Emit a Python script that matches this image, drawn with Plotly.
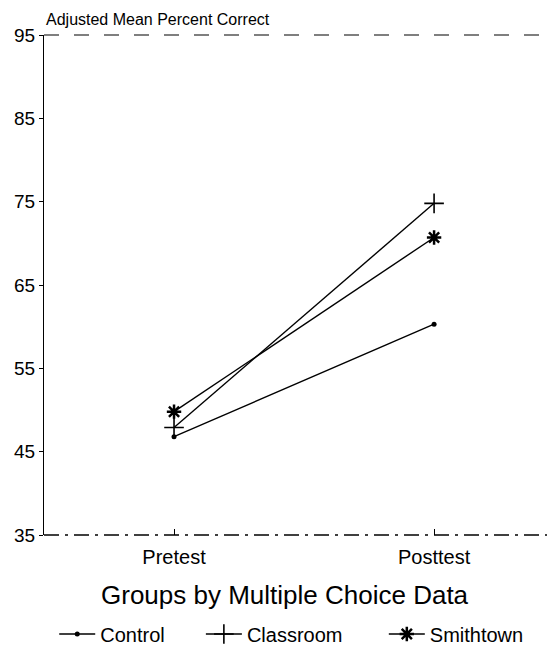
import plotly.graph_objects as go

phases = ["Pretest", "Posttest"]
control = [46.8, 60.3]
classroom = [47.9, 74.8]
smithtown = [49.8, 70.7]
y_ticks = [35, 45, 55, 65, 75, 85, 95]

font = "Liberation Sans, Arial, sans-serif"
xs = [0, 1]

fig = go.Figure()
fig.add_trace(go.Scatter(x=xs, y=control, name="Control", mode="lines+markers",
                         line=dict(color="black", width=1.4), legend="legend",
                         marker=dict(symbol="circle", size=5, color="black")))
fig.add_trace(go.Scatter(x=xs, y=classroom, name="Classroom", mode="lines+markers",
                         line=dict(color="black", width=1.4), legend="legend2",
                         marker=dict(symbol="cross-thin", size=14, line=dict(color="black", width=1.6))))
fig.add_trace(go.Scatter(x=xs, y=smithtown, name="Smithtown", mode="lines+markers",
                         line=dict(color="black", width=1.4), legend="legend3",
                         marker=dict(symbol="asterisk", size=12, line=dict(color="black", width=2.5))))

leg = dict(orientation="h", xanchor="left", y=-0.198, yanchor="middle",
           font=dict(size=20), itemwidth=36, bgcolor="rgba(0,0,0,0)")

fig.update_layout(
    width=547, height=643,
    margin=dict(l=36, r=0, t=27, b=116, autoexpand=False),
    paper_bgcolor="white", plot_bgcolor="white",
    font=dict(family=font, color="black", size=20),
    showlegend=True,
    legend=dict(leg, x=0.02),
    legend2=dict(leg, x=0.307),
    legend3=dict(leg, x=0.665),
    xaxis=dict(range=[-0.5, 1.465], tickmode="array", tickvals=xs, ticktext=phases,
               showgrid=False, zeroline=False, showline=False,
               ticks="inside", ticklen=6, tickcolor="black",
               tickfont=dict(size=20), ticklabelstandoff=8),
    yaxis=dict(range=[35, 95], tickmode="array", tickvals=y_ticks,
               showgrid=False, zeroline=False, showline=True, linecolor="black", linewidth=1.3,
               ticks="outside", ticklen=4, tickcolor="black", tickfont=dict(size=19)),
)
fig.add_shape(type="line", xref="paper", yref="paper", x0=0, x1=1, y0=1, y1=1,
              line=dict(color="black", width=1.2, dash="longdash"))
fig.add_shape(type="line", xref="paper", yref="paper", x0=0, x1=1, y0=0, y1=0,
              line=dict(color="black", width=1.3, dash="longdashdot"))
fig.add_annotation(text="Adjusted Mean Percent Correct", xref="paper", yref="paper",
                   x=0, y=1, xanchor="left", yanchor="bottom", yshift=5, showarrow=False,
                   font=dict(size=16))
fig.add_annotation(text="Groups by Multiple Choice Data", xref="paper", yref="paper",
                   x=0.4716, y=-0.12, xanchor="center", yanchor="middle", showarrow=False,
                   font=dict(size=26))
fig.write_html("out.html")
